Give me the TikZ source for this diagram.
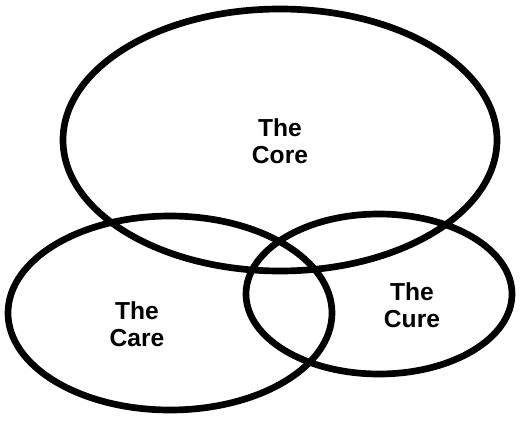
\documentclass[tikz,border=0pt]{standalone}
\usepackage{fontspec}
\setmainfont{Liberation Sans}
\usetikzlibrary{positioning}

\begin{document}
\begin{tikzpicture}[x=0.02cm, y=-0.02cm, line join=round, line cap=round]
      \useasboundingbox (0,0) rectangle (520,422);
      \tikzset{ring/.style={line width=3.8pt, black}, lbl/.style={align=center, font=\fontsize{14}{15.5}\selectfont\bfseries, inner sep=0pt}}
      \draw[ring] (280,140) ellipse [x radius=217, y radius=131];
      \draw[ring] (170,313) ellipse [x radius=162, y radius=97];
      \draw[ring] (379,294) ellipse [x radius=133, y radius=80];
      \node[lbl] (core) at (280,141) {The\\Core};
      \node[lbl] (care) at (137,324) {The\\Care};
      \node[lbl] (cure) at (412,305) {The\\Cure};
    \end{tikzpicture}
\end{document}
